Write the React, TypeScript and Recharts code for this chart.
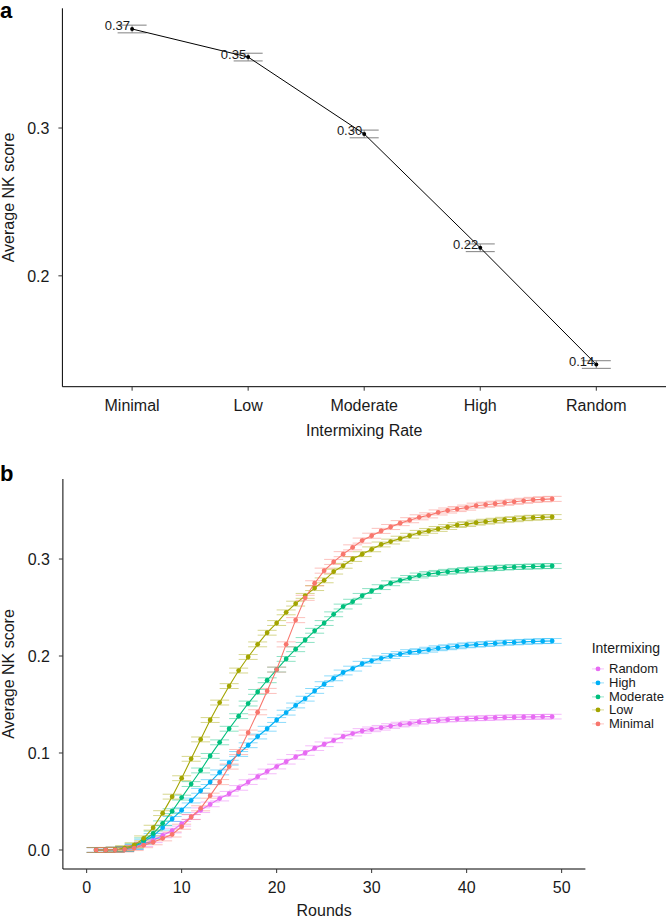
import React from "react";
import { LineChart, Line, XAxis, YAxis, ErrorBar, LabelList, Legend } from "recharts";

const fontFamily = '"Liberation Sans", Arial, Helvetica, sans-serif';
const ink = "#1a1a1a";

// panel a: final score per intermixing rate
const rateLevels = ["Minimal", "Low", "Moderate", "High", "Random"];
const rateScores = [0.367, 0.348, 0.296, 0.219, 0.14];
const rateErrors = [0.0026, 0.0026, 0.0026, 0.0026, 0.0026];
const rateTicks = [0.2, 0.3];

// panel b: score per round
const rounds = [
  1, 2, 3, 4, 5, 6, 7, 8, 9, 10, 11, 12, 13, 14, 15, 16, 17, 18, 19, 20, 21, 22, 23, 24, 25,
  26, 27, 28, 29, 30, 31, 32, 33, 34, 35, 36, 37, 38, 39, 40, 41, 42, 43, 44, 45, 46, 47, 48, 49,
];
const randomScores = [
  0, 0, 0.0003, 0.001, 0.003, 0.006, 0.01, 0.015, 0.02, 0.027, 0.034, 0.041, 0.047, 0.053, 0.058,
  0.064, 0.07, 0.0756, 0.081, 0.086, 0.091, 0.096, 0.1, 0.105, 0.109, 0.113, 0.117, 0.12, 0.1227,
  0.1244, 0.126, 0.1278, 0.1293, 0.1303, 0.132, 0.133, 0.1337, 0.1344, 0.135, 0.1354, 0.1357,
  0.136, 0.1364, 0.1367, 0.1369, 0.1371, 0.1372, 0.1374, 0.1375,
];
const highScores = [
  0, 0, 0.0003, 0.001, 0.003, 0.0086, 0.0144, 0.023, 0.032, 0.041, 0.051, 0.061, 0.07, 0.08, 0.09,
  0.099, 0.108, 0.117, 0.125, 0.134, 0.1416, 0.149, 0.156, 0.164, 0.171, 0.177, 0.183, 0.187,
  0.192, 0.195, 0.1976, 0.2, 0.202, 0.204, 0.205, 0.2065, 0.208, 0.209, 0.21, 0.211, 0.2117,
  0.2124, 0.213, 0.2137, 0.214, 0.2146, 0.215, 0.2153, 0.2155,
];
const moderateScores = [
  0, 0, 0.0003, 0.001, 0.004, 0.01, 0.017, 0.0275, 0.04, 0.054, 0.068, 0.082, 0.097, 0.111, 0.125,
  0.138, 0.151, 0.163, 0.175, 0.186, 0.197, 0.207, 0.2165, 0.226, 0.234, 0.243, 0.251, 0.256,
  0.262, 0.267, 0.271, 0.275, 0.278, 0.2805, 0.283, 0.2845, 0.2857, 0.2868, 0.2878, 0.2887,
  0.2894, 0.29, 0.2906, 0.2912, 0.2917, 0.292, 0.2923, 0.2926, 0.2928,
];
const lowScores = [
  0, 0, 0.0005, 0.002, 0.005, 0.012, 0.023, 0.038, 0.055, 0.074, 0.094, 0.114, 0.134, 0.152, 0.169,
  0.185, 0.199, 0.212, 0.224, 0.234, 0.245, 0.254, 0.262, 0.27, 0.278, 0.287, 0.293, 0.3, 0.305,
  0.31, 0.315, 0.318, 0.321, 0.324, 0.327, 0.329, 0.331, 0.333, 0.335, 0.336, 0.3375, 0.3385,
  0.3395, 0.3405, 0.341, 0.342, 0.3426, 0.343, 0.3433,
];
const minimalScores = [
  0, 0, 0.0002, 0.0005, 0.002, 0.005, 0.008, 0.012, 0.016, 0.024, 0.034, 0.043, 0.056, 0.07, 0.086,
  0.101, 0.121, 0.142, 0.164, 0.186, 0.212, 0.237, 0.26, 0.275, 0.288, 0.297, 0.305, 0.312, 0.319,
  0.324, 0.329, 0.333, 0.337, 0.34, 0.343, 0.345, 0.348, 0.35, 0.3515, 0.353, 0.355, 0.356, 0.357,
  0.358, 0.359, 0.36, 0.361, 0.3615, 0.362,
];
const seriesNames = ["Random", "High", "Moderate", "Low", "Minimal"];
const seriesColors = ["#E76BF3", "#00B0F6", "#00BF7D", "#A3A500", "#F8766D"];
const seriesErrors = [0.0024, 0.0025, 0.0025, 0.0025, 0.0026];
const seriesValues = [randomScores, highScores, moderateScores, lowScores, minimalScores];
const roundTicks = [0, 10, 20, 30, 40, 50];
const scoreTicks = [0, 0.1, 0.2, 0.3];

const rateTable = rateLevels.map((level, i) => ({
  level,
  score: rateScores[i],
  err: rateErrors[i],
}));

const roundsTable = rounds.map((round, i) => {
  const row: Record<string, number> = { round };
  seriesNames.forEach((name, k) => {
    row[name] = seriesValues[k][i];
    row[name + "Err"] = seriesErrors[k];
  });
  return row;
});

const tickStyle = { fill: ink, fontSize: 16 };

function yTitle(props: any) {
  const vb = props.viewBox;
  const cx = vb.x + 8;
  const cy = vb.y + vb.height / 2;
  return (
    <text
      x={cx}
      y={cy}
      dy="0.35em"
      transform={`rotate(-90 ${cx} ${cy})`}
      textAnchor="middle"
      fontSize={16}
      fill={ink}
    >
      Average NK score
    </text>
  );
}

function xTitle(text: string, drop: number) {
  return (props: any) => {
    const vb = props.viewBox;
    return (
      <text x={vb.x + vb.width / 2} y={vb.y + drop} textAnchor="middle" fontSize={16} fill={ink}>
        {text}
      </text>
    );
  };
}

function rateLabel(props: any) {
  const vb = props.viewBox || {};
  const px = props.x ?? vb.x;
  const py = props.y ?? vb.y;
  return (
    <text x={px - 2} y={py + 1.5} textAnchor="end" fontSize={13} fill={ink}>
      {Number(props.value).toFixed(2)}
    </text>
  );
}

function legendBox(props: any) {
  const payload: any[] = props.payload || [];
  const items = seriesNames.map((name, k) => {
    const hit = payload.find((p) => p.value === name);
    return { name, color: hit?.color ?? seriesColors[k] };
  });
  return (
    <div style={{ fontFamily, color: ink }}>
      <div style={{ fontSize: 14, lineHeight: "17px", marginLeft: 5.7 }}>Intermixing</div>
      <div style={{ marginTop: 5 }}>
        {items.map((it) => (
          <div key={it.name} style={{ display: "flex", alignItems: "center", height: 13.8 }}>
            <svg width={23} height={13.8} style={{ flex: "none" }}>
              <line x1={6} x2={18} y1={6.9} y2={6.9} stroke={it.color} strokeOpacity={0.4} />
              <circle cx={12} cy={6.9} r={2.4} fill={it.color} />
            </svg>
            <span style={{ fontSize: 13, lineHeight: "13.8px", whiteSpace: "nowrap" }}>{it.name}</span>
          </div>
        ))}
      </div>
    </div>
  );
}

function RatePanel() {
  return (
    <LineChart
      width={666}
      height={450}
      data={rateTable}
      margin={{ top: 8.3, right: 0, bottom: 0, left: 0 }}
    >
      <XAxis
        dataKey="level"
        type="category"
        padding={{ left: 69.7, right: 69.7 }}
        height={63.3}
        stroke="#000"
        tick={tickStyle}
        tickLine={{ stroke: "#333" }}
        tickSize={4}
        tickMargin={9}
        label={xTitle("Intermixing Rate", 49.3)}
      />
      <YAxis
        type="number"
        domain={[0.125, 0.381]}
        ticks={rateTicks}
        allowDataOverflow
        width={62.4}
        stroke="#000"
        tick={tickStyle}
        tickLine={{ stroke: "#333" }}
        tickSize={4}
        tickMargin={9}
        tickFormatter={(v: number) => v.toFixed(1)}
        label={yTitle}
      />
      <Line
        dataKey="score"
        type="linear"
        stroke="#000"
        strokeWidth={1}
        dot={{ r: 2, fill: "#000", stroke: "none" }}
        activeDot={false}
        isAnimationActive={false}
      >
        <ErrorBar dataKey="err" width={14.5} stroke="#8c8c8c" strokeWidth={1.1} isAnimationActive={false} />
        <LabelList dataKey="score" content={rateLabel} />
      </Line>
    </LineChart>
  );
}

function RoundsPanel() {
  return (
    <LineChart
      width={666}
      height={470}
      data={roundsTable}
      margin={{ top: 29, right: 80.6, bottom: 0, left: 0 }}
    >
      <XAxis
        dataKey="round"
        type="number"
        domain={[-2.5, 52.5]}
        ticks={roundTicks}
        allowDataOverflow
        height={51}
        stroke="#000"
        tick={tickStyle}
        tickLine={{ stroke: "#333" }}
        tickSize={4}
        tickMargin={9}
        label={xTitle("Rounds", 47)}
      />
      <YAxis
        type="number"
        domain={[-0.0196, 0.3825]}
        ticks={scoreTicks}
        allowDataOverflow
        width={62.9}
        stroke="#000"
        tick={tickStyle}
        tickLine={{ stroke: "#333" }}
        tickSize={4}
        tickMargin={9}
        tickFormatter={(v: number) => v.toFixed(1)}
        label={yTitle}
      />
      <Legend
        layout="vertical"
        align="center"
        verticalAlign="middle"
        content={legendBox}
        wrapperStyle={{ left: 586, top: 190, width: 80 }}
      />
      {seriesNames.map((name, k) => (
        <Line
          key={name}
          name={name}
          dataKey={name}
          type="linear"
          stroke={seriesColors[k]}
          strokeWidth={1.1}
          dot={{ r: 2.4, fill: seriesColors[k], stroke: "none" }}
          activeDot={false}
          isAnimationActive={false}
        >
          <ErrorBar
            dataKey={name + "Err"}
            width={9.5}
            stroke={seriesColors[k]}
            strokeOpacity={0.45}
            strokeWidth={1}
            isAnimationActive={false}
          />
        </Line>
      ))}
    </LineChart>
  );
}

export default function App() {
  const tag = { position: "absolute" as const, left: 0, fontSize: 22, fontWeight: 700, lineHeight: "22px" };
  return (
    <div
      style={{
        position: "absolute",
        left: 0,
        top: 0,
        width: 666,
        height: 920,
        background: "#fff",
        fontFamily,
        overflow: "hidden",
      }}
    >
      <div style={{ position: "absolute", left: 0, top: 0 }}>
        <RatePanel />
      </div>
      <div style={{ position: "absolute", left: 0, top: 450 }}>
        <RoundsPanel />
      </div>
      <div style={{ ...tag, top: 0 }}>a</div>
      <div style={{ ...tag, top: 463.4 }}>b</div>
    </div>
  );
}
